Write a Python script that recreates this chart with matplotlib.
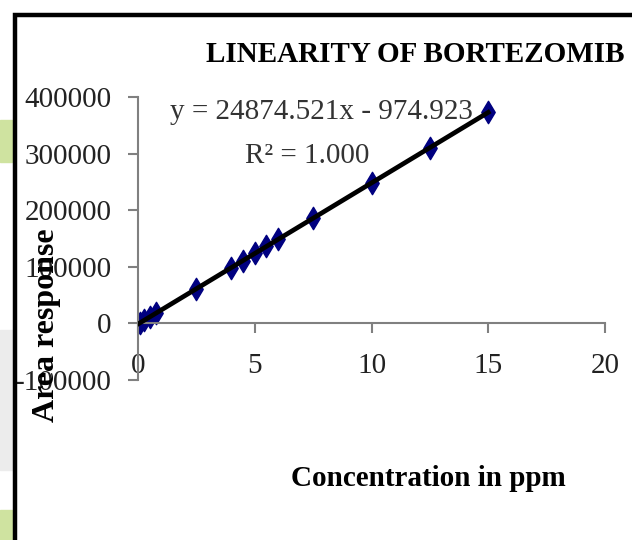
import numpy as np
import matplotlib
matplotlib.use("Agg")
from matplotlib import pyplot as plt
from matplotlib.patches import Rectangle

# concentration (ppm) vs peak area
conc = [0.1, 0.25, 0.5, 0.75, 2.5, 4.0, 4.5, 5.0, 5.5, 6.0, 7.5, 10.0, 12.5, 15.0]
area = [1500, 5300, 11500, 17800, 61000, 98500, 111000, 123500, 136000,
        148500, 185500, 247500, 310500, 373500]

x_ticks = [0, 5, 10, 15, 20]
y_ticks = [-100000, 0, 100000, 200000, 300000, 400000]

title = "LINEARITY OF BORTEZOMIB"
eq_text = "y = 24874.521x - 974.923"
r2_text = "R² = 1.000"

plt.rcParams['font.family'] = ['Liberation Serif', 'DejaVu Serif']

fig = plt.figure(figsize=(6.32, 5.40), dpi=100)

# slide background bits on the far left
fig.patches.append(Rectangle((0, 1 - 162/540), 12/632, 42/540, transform=fig.transFigure,
                             color='#cfe3a0', zorder=0))
fig.patches.append(Rectangle((0, 0), 12/632, 30/540, transform=fig.transFigure,
                             color='#cfe3a0', zorder=0))
fig.patches.append(Rectangle((0, 1 - 470/540), 12/632, 140/540, transform=fig.transFigure,
                             color='#ececec', zorder=0))
# black frame
fig.patches.append(Rectangle((15/632, -0.1), 1.2, 1 - 15/540 + 0.1, transform=fig.transFigure,
                             fill=False, edgecolor='black', linewidth=3.2, zorder=1))

ax = fig.add_axes([138/632, 1 - 380/540, 467/632, 283/540])
ax.set_xlim(0, 20)
ax.set_ylim(-100000, 400000)

ax.scatter(conc, area, marker='d', s=130, color='#000080', zorder=2)
fit = np.polyfit(conc, area, 1)
xs = np.array([0, 15])
ax.plot(xs, np.polyval(fit, xs), color='black', linewidth=3.4, zorder=3)

for s in ['top', 'right']:
    ax.spines[s].set_visible(False)
ax.spines['left'].set_color('#808080')
ax.spines['left'].set_linewidth(1.5)
ax.spines['bottom'].set_color('#808080')
ax.spines['bottom'].set_linewidth(1.5)
ax.spines['bottom'].set_position(('data', 0))

ax.set_xticks(x_ticks)
ax.set_yticks(y_ticks)
ax.set_xticklabels([str(t) for t in x_ticks])
ax.set_yticklabels([str(t) for t in y_ticks])
ax.tick_params(axis='both', colors='#808080', labelcolor='#222222', labelsize=21,
               length=7, width=1.5)
ax.tick_params(axis='x', pad=14)
ax.tick_params(axis='y', pad=12)

fig.text(170/632, 1 - 112/540, eq_text, fontsize=21, color='#333333',
         va='center', ha='left', zorder=1)
fig.text(245/632, 1 - 156/540, r2_text, fontsize=21, color='#333333',
         va='center', ha='left', zorder=1)

fig.text(415/632, 1 - 55/540, title, fontsize=21, fontweight='bold', ha='center', va='center')
fig.text(47/632, 1 - 325/540, "Area response", fontsize=23, fontweight='bold',
         rotation=90, ha='center', va='center')
fig.text(428/632, 1 - 478/540, "Concentration in ppm", fontsize=21, fontweight='bold',
         ha='center', va='center')

fig.savefig("out.png", dpi=100)
